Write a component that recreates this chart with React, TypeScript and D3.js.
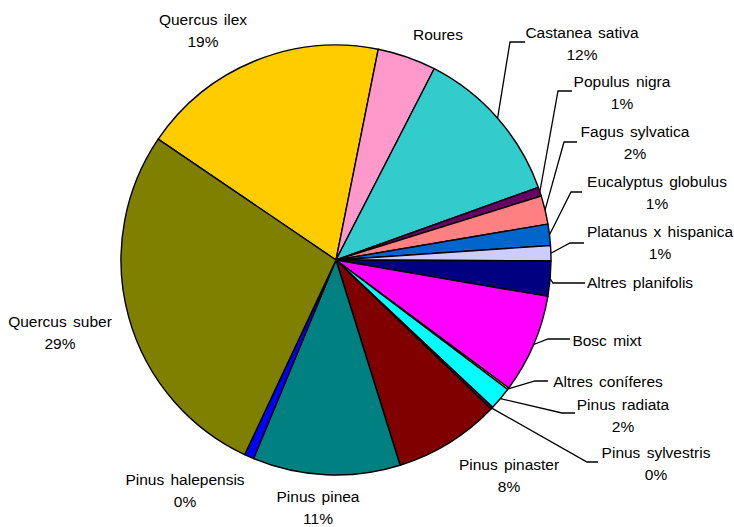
import React from 'react';
import * as d3 from 'd3';

// slice shares (%), clockwise from Quercus ilex
const species = [
  'Quercus ilex', 'Roures', 'Castanea sativa', 'Populus nigra', 'Fagus sylvatica',
  'Eucalyptus globulus', 'Platanus x hispanica', 'Altres planifolis', 'Bosc mixt',
  'Altres coníferes', 'Pinus radiata', 'Pinus sylvestris', 'Pinus pinaster',
  'Pinus pinea', 'Pinus halepensis', 'Quercus suber',
];
const shares = [
  18.65, 4.4, 11.97, 0.67, 2.14, 1.6, 1.14, 2.64, 7.44,
  0.14, 1.72, 0.17, 8.0, 11.08, 0.72, 27.52,
];
// percentages as printed on the chart ('' = no percentage shown)
const pctLabels = [
  '19%', '', '12%', '1%', '2%', '1%', '1%', '', '',
  '', '2%', '0%', '8%', '11%', '0%', '29%',
];
const colors = [
  '#FFCC00', '#FF99CC', '#33CCCC', '#660066', '#FF8080', '#0066CC', '#CCCCFF', '#000080',
  '#FF00FF', '#FFFF00', '#00FFFF', '#800080', '#800000', '#008080', '#0000FF', '#808000',
];

// label layout: text centre, and optional leader elbow [x, y, endX]
const labelPos: Record<string, { x: number; y: number; leader?: [number, number, number] }> = {
  'Quercus ilex': { x: 203, y: 20 },
  'Roures': { x: 438, y: 35 },
  'Castanea sativa': { x: 582, y: 33, leader: [510, 42, 525] },
  'Populus nigra': { x: 622, y: 82, leader: [558, 91, 572] },
  'Fagus sylvatica': { x: 635, y: 132, leader: [564, 142, 577] },
  'Eucalyptus globulus': { x: 657, y: 182, leader: [571, 192, 582] },
  'Platanus x hispanica': { x: 660, y: 232, leader: [570, 243, 584] },
  'Altres planifolis': { x: 640, y: 283, leader: [553, 283, 585] },
  'Bosc mixt': { x: 607, y: 341, leader: [548, 339, 570] },
  'Altres coníferes': { x: 608, y: 382, leader: [535, 381, 548] },
  'Pinus radiata': { x: 623, y: 405, leader: [562, 413, 575] },
  'Pinus sylvestris': { x: 656, y: 453, leader: [587, 462, 598] },
  'Pinus pinaster': { x: 509, y: 465 },
  'Pinus pinea': { x: 318, y: 497 },
  'Pinus halepensis': { x: 185, y: 480 },
  'Quercus suber': { x: 60, y: 322 },
};

const W = 734;
const H = 527;
const cx = 336;
const cy = 260;
const R = 215;
const start = (-55.8 * Math.PI) / 180;

export default function App() {
  const data = species.map((name, i) => ({ name, value: shares[i], pct: pctLabels[i], color: colors[i] }));
  const pie = d3.pie<typeof data[0]>()
    .value(d => d.value)
    .sort(null)
    .startAngle(start)
    .endAngle(start + 2 * Math.PI);
  const arcs = pie(data);
  const arc = d3.arc<d3.PieArcDatum<typeof data[0]>>().innerRadius(0).outerRadius(R);
  const edge = d3.arc<d3.PieArcDatum<typeof data[0]>>().innerRadius(R).outerRadius(R);

  const font = "'Liberation Sans', Arial, sans-serif";

  return (
    <svg width={W} height={H} style={{ position: 'absolute', left: 0, top: 0, background: '#fff' }}>
      <g transform={`translate(${cx},${cy})`}>
        {arcs.map(a => (
          <path key={a.data.name} d={arc(a) || ''} fill={a.data.color} stroke="#000" strokeWidth={1.4} strokeLinejoin="round" />
        ))}
      </g>
      {arcs.map(a => {
        const p = labelPos[a.data.name];
        if (!p.leader) return null;
        const [sx, sy] = edge.centroid(a);
        const [ex, ey, endX] = p.leader;
        return (
          <polyline
            key={'l' + a.data.name}
            points={`${sx + cx},${sy + cy} ${ex},${ey} ${endX},${ey}`}
            fill="none"
            stroke="#000"
            strokeWidth={1.3}
          />
        );
      })}
      {arcs.map(a => {
        const p = labelPos[a.data.name];
        return (
          <text
            key={'t' + a.data.name}
            textAnchor="middle"
            fontFamily={font}
            fontSize={15.5}
            fill="#000"
            style={{ wordSpacing: '2px' }}
          >
            <tspan x={p.x} y={p.y} dy="0.35em">{a.data.name}</tspan>
            {a.data.pct && <tspan x={p.x} y={p.y + 21.5} dy="0.35em">{a.data.pct}</tspan>}
          </text>
        );
      })}
    </svg>
  );
}
